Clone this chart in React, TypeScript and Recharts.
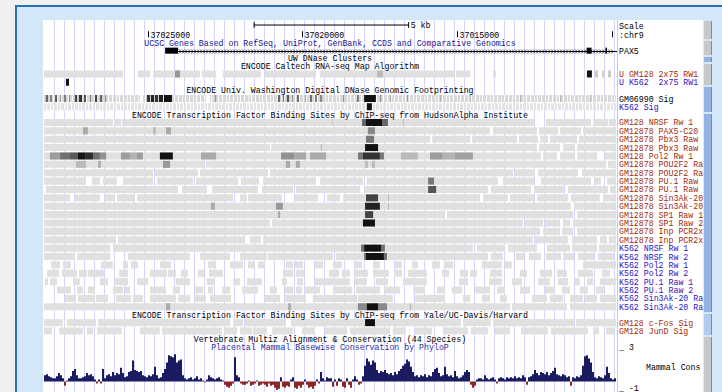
import React from 'react';
import {
  ComposedChart,
  BarChart,
  Bar,
  Cell,
  Scatter,
  XAxis,
  YAxis,
  CartesianGrid,
  ReferenceArea,
  ReferenceLine,
} from 'recharts';

// ---------------- genomic window (chr9, reverse-strand display) ----------------
// positions below are kb downstream (to the right) of the window's left edge, chr9:37,028,365
const WINDOW_LEFT_BP = 37028365;
const WINDOW_KB = 18.51;

const rulerTicksBp = [37025000, 37020000, 37015000, 37010000];
const rulerLabelShown = [true, true, true, false];
const scaleBarStartKb = 6.8;
const scaleBarKb = 5;

// PAX5 gene model (kb)
const paxExons: [number, number][] = [
  [3.92, 4.34],
  [17.56, 17.72],
  [18.17, 18.22],
];
const paxSpan: [number, number] = [4.34, 18.51];

// ---------------- track segments: [startKb, endKb, signal 0..1] ----------------
type Seg = [number, number, number];

const rnaGm12878: Seg[] = [
  [0, 2.56, 0], [3.04, 3.43, 0], [3.53, 5.05, 0], [5.11, 5.57, 0], [5.79, 7.02, 0], [7.15, 8.8, 0],
  [8.93, 13.3, 0], [13.33, 13.79, 0], [14.53, 14.63, 0],
  [4.24, 4.4, 0.32], [10.78, 10.97, 0.17], [17.57, 17.73, 0.92], [17.83, 17.93, 0.09], [18.06, 18.12, 0.09], [18.25, 18.35, 0.09],
];
const rnaK562: Seg[] = [[0.71, 0.81, 0.92]];

const dnaseGm06990: Seg[] = [
  [0, 3.11, 0], [3.2, 5.24, 0], [5.37, 18.51, 0],
  [0.06, 0.13, 0.54], [0.19, 0.26, 0.39], [0.36, 0.42, 0.62], [0.52, 0.55, 0.32], [0.65, 0.71, 0.47], [0.81, 0.84, 0.39],
  [1.0, 1.07, 0.7], [1.13, 1.23, 0.77], [1.29, 1.36, 0.62], [1.49, 1.52, 0.47], [1.65, 1.72, 0.7], [1.81, 1.88, 0.54], [1.97, 2.01, 0.32],
  [3.33, 3.43, 0.77], [3.46, 3.56, 0.85], [3.59, 3.69, 0.77], [3.72, 3.85, 0.85], [3.88, 4.14, 0.92], [5.53, 5.57, 0.32],
  [7.57, 7.64, 0.54], [7.73, 7.77, 0.47], [7.86, 7.93, 0.62], [8.03, 8.06, 0.39], [8.19, 8.25, 0.54], [8.45, 8.48, 0.32],
  [8.61, 8.67, 0.54], [8.77, 8.83, 0.47], [8.93, 9.0, 0.39], [9.68, 9.71, 0.39], [10.13, 10.19, 0.47], [10.36, 10.74, 0.92],
  [10.87, 10.91, 0.32], [11.2, 11.23, 0.24], [11.75, 11.78, 0.32], [12.81, 12.85, 0.2], [13.79, 13.82, 0.2], [15.4, 15.44, 0.2],
  [16.7, 16.73, 0.2], [17.67, 17.7, 0.2],
];
const dnaseK562: Seg[] = [[0, 18.51, 0], [10.45, 10.61, 0.92]];

// HudsonAlpha TFBS (GM12878)
const haGmNrsf1: Seg[] = [[0, 2.23, 0], [2.27, 2.49, 0], [2.52, 15.86, 0], [16.24, 17.7, 0], [17.77, 18.25, 0], [18.28, 18.51, 0], [10.29, 10.42, 0.54], [10.42, 10.94, 0.92], [10.94, 11.13, 0.54], [11.62, 11.65, 0.17], [9.32, 9.35, 0.1]];
const haGmPax5: Seg[] = [[0, 14.43, 0], [14.53, 15.95, 0], [16.02, 16.63, 0], [16.7, 17.38, 0], [17.44, 18.51, 0], [1.26, 1.42, 0.24], [3.53, 3.62, 0.17], [3.95, 4.11, 0.24], [10.48, 10.71, 0.39]];
const haGmPbx3a: Seg[] = [[0, 12.49, 0], [12.56, 13.79, 0], [13.85, 15.31, 0], [15.37, 15.99, 0], [16.05, 16.31, 0], [16.37, 17.25, 0], [17.31, 18.51, 0], [10.42, 10.68, 0.47]];
const haGmPbx3b: Seg[] = [[0, 7.31, 0], [7.35, 15.95, 0], [16.02, 16.7, 0], [16.8, 17.18, 0], [17.25, 18.51, 0], [10.39, 10.81, 0.92], [8.96, 9.0, 0.17]];
const haGmPol2: Seg[] = [
  [0, 16.08, 0], [16.15, 16.6, 0], [16.7, 17.18, 0], [17.25, 17.9, 0], [18.15, 18.51, 0],
  [0.19, 0.52, 0.3], [0.52, 0.84, 0.5], [0.84, 1.1, 0.6], [1.1, 1.33, 0.9], [1.33, 1.59, 0.8], [1.59, 1.81, 0.5], [1.81, 2.01, 0.35],
  [2.49, 2.78, 0.3], [2.78, 3.01, 0.2], [3.01, 3.2, 0.3], [3.75, 4.17, 0.92], [5.08, 5.57, 0.24], [7.67, 8.1, 0.35], [8.1, 8.48, 0.25],
  [8.61, 9.13, 0.24], [10.16, 10.32, 0.47], [10.32, 10.87, 0.77], [10.87, 11.0, 0.47], [11.55, 12.1, 0.17],
  [12.49, 12.9, 0.3], [12.9, 13.3, 0.2], [13.3, 13.88, 0.28],
];
const haGmPou2f2a: Seg[] = [[0, 5.18, 0], [5.24, 18.19, 0], [18.25, 18.51, 0], [1.04, 1.36, 0.17], [1.75, 1.84, 0.24], [3.85, 4.08, 0.32], [7.83, 7.96, 0.24], [8.15, 8.28, 0.24], [10.39, 10.48, 0.17], [10.61, 10.71, 0.17]];
const haGmPou2f2b: Seg[] = [[0, 3.53, 0], [3.59, 4.98, 0], [5.05, 7.25, 0], [7.31, 15.18, 0], [15.24, 15.89, 0], [15.99, 17.28, 0], [17.41, 18.51, 0]];
const haGmPu1a: Seg[] = [[0, 1.36, 0], [1.55, 1.81, 0], [1.91, 2.36, 0], [2.56, 3.53, 0], [3.66, 4.82, 0], [4.92, 6.28, 0], [6.37, 6.96, 0], [7.09, 8.8, 0], [8.93, 10.32, 0], [10.45, 14.69, 0], [14.85, 15.86, 0], [16.08, 17.7, 0], [17.8, 18.02, 0], [18.22, 18.51, 0], [12.43, 12.62, 0.47]];
const haGmPu1b: Seg[] = [[0.06, 4.34, 0], [4.47, 5.27, 0], [5.44, 6.93, 0], [7.05, 8.06, 0], [8.15, 10.23, 0], [10.36, 14.37, 0], [14.46, 15.76, 0], [15.86, 16.83, 0], [16.96, 18.25, 0], [18.32, 18.51, 0], [12.43, 12.69, 0.62]];
const haGmSin3a: Seg[] = [[0, 0.84, 0], [1.0, 1.81, 0], [1.97, 2.3, 0], [2.36, 2.94, 0], [3.01, 6.12, 0], [6.34, 6.57, 0], [6.6, 7.7, 0], [8.12, 8.87, 0], [9.16, 9.58, 0], [9.68, 14.11, 0], [14.21, 15.02, 0], [15.08, 15.86, 0], [15.95, 16.96, 0], [17.05, 17.99, 0], [18.09, 18.51, 0], [10.42, 10.81, 0.7], [11.13, 11.16, 0.17]];
const haGmSin3b: Seg[] = [[0, 17.05, 0], [17.15, 18.51, 0], [5.4, 5.53, 0.24], [7.51, 7.73, 0.32], [10.39, 10.87, 0.85], [11.13, 11.16, 0.17]];
const haGmSp1a: Seg[] = [[0, 12.98, 0], [13.04, 17.12, 0], [17.25, 18.51, 0], [7.57, 7.64, 0.24], [10.39, 10.65, 0.7]];
const haGmSp1b: Seg[] = [[0, 7.31, 0], [7.38, 15.5, 0], [15.56, 16.15, 0], [16.21, 16.7, 0], [16.8, 17.02, 0], [17.12, 18.51, 0], [10.32, 10.71, 0.92]];
const haGmInpA: Seg[] = [[0, 16.05, 0], [16.15, 16.7, 0], [16.76, 17.12, 0], [17.25, 18.51, 0]];
const haGmInpB: Seg[] = [[0, 2.33, 0], [2.39, 6.5, 0], [6.67, 7.02, 0], [7.09, 15.82, 0], [15.89, 16.96, 0], [17.09, 17.9, 0], [17.99, 18.22, 0], [18.28, 18.51, 0]];

// HudsonAlpha TFBS (K562)
const haK562Nrsf1: Seg[] = [[0, 2.14, 0], [2.23, 13.88, 0], [14.01, 14.92, 0], [15.02, 15.95, 0], [16.28, 17.02, 0], [17.09, 17.9, 0], [17.96, 18.51, 0], [10.26, 10.36, 0.5], [10.36, 10.91, 0.92], [10.91, 11.03, 0.5]];
const haK562Nrsf2: Seg[] = [[0, 1.0, 0], [1.07, 2.14, 0], [2.72, 4.72, 0], [5.05, 6.02, 0], [6.34, 7.22, 0], [7.25, 9.35, 0], [9.45, 14.37, 0], [14.46, 14.85, 0], [15.27, 15.53, 0], [15.69, 16.08, 0], [16.24, 16.73, 0], [16.8, 17.15, 0], [17.28, 17.8, 0], [17.93, 18.45, 0], [10.36, 10.42, 0.5], [10.42, 11.0, 0.92], [11.0, 11.1, 0.5]];
const haK562Pol2a: Seg[] = [[0.23, 0.52, 0], [0.61, 0.87, 0], [1.84, 2.23, 0], [2.56, 2.72, 0], [2.82, 3.04, 0], [3.75, 4.11, 0], [5.31, 5.57, 0], [6.02, 6.44, 0], [6.6, 6.83, 0], [6.93, 7.15, 0], [7.83, 8.06, 0], [8.12, 8.38, 0], [8.77, 9.03, 0], [9.35, 9.64, 0], [10.06, 10.29, 0], [10.65, 10.87, 0], [11.36, 11.58, 0], [11.91, 12.1, 0], [12.56, 12.81, 0], [12.94, 13.24, 0], [14.17, 14.82, 0], [14.92, 15.14, 0], [17.44, 18.51, 0]];
const haK562Pol2b: Seg[] = [[0.1, 0.49, 0], [0.58, 1.07, 0], [1.13, 1.39, 0], [1.42, 1.94, 0], [2.43, 2.72, 0], [3.43, 3.98, 0], [4.01, 4.27, 0], [4.43, 4.66, 0], [4.98, 5.18, 0], [5.34, 5.79, 0], [7.73, 8.06, 0], [8.15, 8.41, 0], [9.22, 9.55, 0], [9.64, 9.9, 0], [10.06, 10.48, 0], [10.65, 11.16, 0], [11.33, 11.58, 0], [11.78, 12.39, 0], [12.88, 13.11, 0], [13.46, 13.72, 0], [13.79, 14.01, 0], [14.43, 14.82, 0], [15.4, 15.63, 0], [16.05, 16.44, 0], [16.6, 16.92, 0], [17.28, 17.77, 0], [18.06, 18.32, 0]];
const haK562Pu1a: Seg[] = [[0.03, 0.13, 0], [0.19, 0.42, 0], [0.94, 1.16, 0], [1.81, 2.07, 0], [2.3, 2.72, 0], [3.01, 3.37, 0], [4.27, 4.72, 0], [5.27, 5.53, 0], [6.12, 6.34, 0], [6.57, 7.05, 0], [7.7, 7.86, 0], [8.19, 8.38, 0], [8.77, 9.9, 0], [10.06, 10.45, 0], [10.74, 11.13, 0], [11.62, 12.39, 0], [13.43, 13.72, 0], [14.4, 14.82, 0], [15.14, 15.47, 0], [15.99, 16.37, 0], [16.63, 16.96, 0], [17.18, 17.34, 0], [17.57, 17.77, 0], [17.99, 18.51, 0]];
const haK562Pu1b: Seg[] = [[0.42, 0.87, 0], [1.07, 1.26, 0], [1.42, 1.65, 0], [2.23, 2.56, 0], [2.62, 2.78, 0], [3.43, 3.95, 0], [4.17, 4.4, 0], [4.89, 5.15, 0], [5.31, 5.47, 0], [5.76, 6.02, 0], [6.41, 6.93, 0], [7.31, 7.54, 0], [7.8, 8.06, 0], [8.15, 8.35, 0], [8.45, 8.93, 0], [9.35, 9.97, 0], [10.1, 10.87, 0], [11.0, 11.52, 0], [11.94, 12.33, 0], [12.72, 12.98, 0], [13.2, 13.53, 0], [13.95, 14.43, 0], [14.66, 14.92, 0], [15.4, 15.73, 0], [16.21, 16.54, 0], [16.76, 17.02, 0], [17.34, 17.6, 0], [17.86, 18.12, 0]];
const haK562Sin3a: Seg[] = [[0.68, 1.04, 0], [1.1, 1.65, 0], [1.68, 2.07, 0], [2.33, 2.82, 0], [2.88, 3.2, 0], [3.43, 4.27, 0], [4.34, 4.72, 0], [4.89, 5.24, 0], [5.37, 6.05, 0], [7.15, 7.64, 0], [7.8, 8.48, 0], [8.7, 10.13, 0], [10.16, 11.29, 0], [12.01, 12.98, 0], [13.56, 13.79, 0], [14.17, 14.43, 0], [14.76, 14.98, 0], [15.79, 16.28, 0], [16.37, 16.8, 0], [17.02, 17.44, 0], [17.51, 17.9, 0], [17.99, 18.51, 0]];
const haK562Sin3b: Seg[] = [[0, 15.08, 0], [15.14, 16.92, 0], [17.02, 18.51, 0], [3.95, 4.08, 0.24], [7.9, 7.99, 0.24], [10.16, 10.45, 0.39], [10.45, 10.81, 0.92], [10.81, 11.1, 0.39], [11.84, 11.88, 0.17]];

// Yale/UC-Davis/Harvard TFBS
const yaleGmCfos: Seg[] = [[0, 0.61, 0], [0.74, 1.68, 0], [1.75, 6.02, 0], [6.12, 6.44, 0], [6.5, 7.83, 0], [7.99, 13.49, 0], [13.56, 14.46, 0], [14.53, 17.15, 0], [17.22, 18.51, 0], [10.39, 10.71, 0.92]];
const yaleGmJund: Seg[] = [[0, 0.26, 0], [0.49, 1.26, 0], [1.39, 1.59, 0], [1.72, 2.52, 0], [3.11, 3.75, 0], [3.82, 5.76, 0], [5.82, 6.25, 0], [6.34, 6.73, 0], [6.76, 7.22, 0], [7.38, 8.06, 0], [8.35, 8.77, 0], [9.09, 9.81, 0], [9.9, 11.2, 0], [11.29, 11.71, 0], [12.01, 12.56, 0], [12.91, 13.72, 0], [13.82, 14.37, 0], [14.59, 15.08, 0], [15.44, 16.31, 0], [16.41, 17.6, 0], [17.77, 17.96, 0], [18.19, 18.45, 0]];

// Placental mammal phyloP, one value per 0.0647 kb bin
const phyloPScores: number[] = [
  0.6, 0.7, 0.5, 0.4, 0.3, 0.3, 0.5, 0.8, 0.6, 0.3,
  -0.4, 0.1, 0.3, 0.5, 1.0, 1.2, 0.6, 0.3, 0.3, 0.4,
  0.5, 0.8, 0.6, 0.7, 0.5, 0.2, -0.2, 0.2, -0.2, 1.2,
  0.3, 0.6, 0.7, 0.5, 0.9, 0.6, 0.8, 0.7, 1.3, 0.8,
  0.4, 0.5, 0.9, 1.0, 2.0, 1.1, 1.0, 0.9, 1.0, 0.6,
  0.5, 0.4, 0.6, 0.5, 0.7, 1.4, 0.6, 0.3, 0.4, 0.8,
  1.2, 1.8, 2.5, 2.4, 2.3, 2.6, 1.8, 2.0, 2.1, 0.6,
  0.3, 0.2, 0.3, 0.4, 0.2, 0.3, 0.5, 0.2, 0.3, 0.1,
  -0.1, 0.2, 0.6, 0.4, 0.3, 0.2, 0.3, 0.4, 0.2, 0.1,
  -0.3, -0.5, -0.6, -0.4, -0.2, 2.3, 0.6, 0.4, -0.2, -0.3,
  -0.3, -0.2, 0.1, -0.4, -0.3, -0.2, 0.1, -0.4, -0.3, -0.2,
  -0.3, -0.5, -0.2, -0.4, -0.3, -0.6, -0.8, -0.7, 0.4, -0.5,
  -0.6, -0.4, -0.5, 0.2, 0.4, -0.6, -0.7, -0.4, -0.6, -0.3,
  0.2, -0.3, -0.6, -0.5, -0.7, -0.4, 0.2, -0.2, 0.9, 0.3, 0.1, 0.4, 0.3,
  0.3, -0.5, 0.2, -0.4, 0.3, 0.2, -0.5, -0.6, 0.3, -0.3,
  -0.6, 0.2, 0.5, 0.2, -0.3, -0.2, 0.5, 1.5, 2.2, 1.9,
  1.6, 2.0, 1.8, 1.1, 0.8, 1.0, 0.9, 1.1, 0.8, 0.7,
  0.8, 0.6, 0.9, 0.7, 1.0, 1.2, 1.5, 1.7, 2.1, 1.9,
  1.4, 0.9, 0.5, 0.6, 0.4, 0.6, 0.5, 0.7, 0.4, 0.6,
  0.5, 0.9, 1.2, 1.3, 0.8, 0.5, 0.6, 1.4, 0.7, 0.5,
  0.6, 0.4, 1.0, 0.5, 0.3, 0.4, 0.6, 0.9, 1.1, 0.9,
  -0.3, -0.6, -0.4, 0.2, 0.3, 0.3, 0.2, 0.6, 0.3, 0.2,
  0.3, 0.4, 0.2, -0.2, 0.3, 0.4, 0.3, 0.2, 0.4, 0.3,
  0.4, 0.3, 0.5, 0.3, 0.4, 0.3, 0.6, 0.4, -0.3, 0.4,
  0.5, 0.7, 1.1, 0.8, 0.6, 0.9, 0.8, 0.7, 0.9, 0.6,
  0.8, 1.0, 1.3, 0.7, 0.6, 0.5, 0.7, 0.6, 0.4, 0.5,
  -0.4, 0.4, 0.3, 0.5, 0.4, 0.6, 1.5, 2.4, 2.5, 2.2,
  1.8, 0.9, 0.4, 0.3, 0.5, 0.4, 0.3, 0.6, 1.4, 0.8, 0.3, 0.2, 0.3,
];

// ---------------- labels (as visible in the track label column) ----------------
const haGmLabels = [
  'GM128 NRSF Rw 1', 'GM12878 PAX5-C20', 'GM12878 Pbx3 Raw', 'GM12878 Pbx3 Raw', 'GM128 Pol2 Rw 1',
  'GM12878 POU2F2 Ra', 'GM12878 POU2F2 Ra', 'GM12878 PU.1 Raw', 'GM12878 PU.1 Raw',
  'GM12878 Sin3Ak-20', 'GM12878 Sin3Ak-20', 'GM12878 SP1 Raw 1', 'GM12878 SP1 Raw 2',
  'GM12878 Inp PCR2x', 'GM12878 Inp PCR2x',
];
const haK562Labels = [
  'K562 NRSF Rw 1', 'K562 NRSF Rw 2', 'K562 Pol2 Rw 1', 'K562 Pol2 Rw 2',
  'K562 PU.1 Raw 1', 'K562 PU.1 Raw 2', 'K562 Sin3Ak-20 Ra', 'K562 Sin3Ak-20 Ra',
];
const trackTitles = [
  'UCSC Genes Based on RefSeq, UniProt, GenBank, CCDS and Comparative Genomics',
  'UW DNase Clusters',
  'ENCODE Caltech RNA-seq Map Algorithm',
  'ENCODE Univ. Washington Digital DNase Genomic Footprinting',
  'ENCODE Transcription Factor Binding Sites by ChIP-seq from HudsonAlpha Institute',
  'ENCODE Transcription Factor Binding Sites by ChIP-seq from Yale/UC-Davis/Harvard',
  'Vertebrate Multiz Alignment & Conservation (44 Species)',
  'Placental Mammal Basewise Conservation by PhyloP',
];

// ---------------- styling / layout ----------------
const GM_COLOR = '#a12c08';
const K562_COLOR = '#3412c0';
const GENE_BLUE = '#16168e';
const PHYLO_BLUE = '#2e2e9c';
const POS_COLOR = '#1b1b62';
const NEG_COLOR = '#8b2626';
const FONT = '"Liberation Mono", "DejaVu Sans Mono", monospace';
const FS = 8.25;

const W = 722;
const H = 392;
const PLOT_LEFT = 44;
const PLOT_RIGHT = 616;
const PLOT_TOP = 20;
const ROW_PX = 8.378;
const Y_UNITS = (H - PLOT_TOP) / ROW_PX;
const BAR_HALF = 0.42;
const RULER_SLOT = 1.76;
const GENE_SLOT = 3.66;

const toKb = (bp: number) => (WINDOW_LEFT_BP - bp) / 1000;
const shadeOf = (s: number) => {
  const g = Math.round(224 * (1 - s));
  return `rgb(${g},${g},${g})`;
};
const slotY = (slot: number) => PLOT_TOP + slot * ROW_PX;

// base-position guide lines (every ~324 bp)
const guideTicks: number[] = [];
for (let k = 1; k * 0.3236 < WINDOW_KB; k++) guideTicks.push(+(k * 0.3236).toFixed(4));

const guideGenerator = (p: any) => {
  const sc = p && p.xAxis && p.xAxis.scale;
  const off = p && p.offset;
  return guideTicks.map((t) => {
    const v = typeof sc === 'function' ? sc(t) : off.left + (t / WINDOW_KB) * off.width;
    return Math.round(v) + 0.5;
  });
};

type Track = { segs: Seg[]; slot: number; label: string; color: string; texture?: string };

const haGmSegs = [haGmNrsf1, haGmPax5, haGmPbx3a, haGmPbx3b, haGmPol2, haGmPou2f2a, haGmPou2f2b, haGmPu1a, haGmPu1b, haGmSin3a, haGmSin3b, haGmSp1a, haGmSp1b, haGmInpA, haGmInpB];
const haK562Segs = [haK562Nrsf1, haK562Nrsf2, haK562Pol2a, haK562Pol2b, haK562Pu1a, haK562Pu1b, haK562Sin3a, haK562Sin3b];

const tracks: Track[] = [
  { segs: rnaGm12878, slot: 6.44, label: 'U GM128 2x75 RW1', color: GM_COLOR },
  { segs: rnaK562, slot: 7.43, label: 'U K562  2x75 RW1', color: K562_COLOR },
  { segs: dnaseGm06990, slot: 9.37, label: 'GM06990 Sig', color: '#000', texture: 'fpStripes' },
  { segs: dnaseK562, slot: 10.35, label: 'K562 Sig', color: K562_COLOR, texture: 'fpStripesLight' },
  ...haGmSegs.map((segs, i) => ({ segs, slot: 12.23 + i, label: haGmLabels[i], color: GM_COLOR })),
  ...haK562Segs.map((segs, i) => ({ segs, slot: 12.23 + 15 + i, label: haK562Labels[i], color: K562_COLOR })),
  { segs: yaleGmCfos, slot: 36.12, label: 'GM128 c-Fos Sig', color: GM_COLOR },
  { segs: yaleGmJund, slot: 37.11, label: 'GM128 JunD Sig', color: GM_COLOR },
];

const titleSlots = [2.74, 4.53, 5.49, 8.35, 11.28, 35.2, 38.1, 39.06];
const titleColors = [GENE_BLUE, '#000', '#000', '#000', '#000', '#000', '#000', PHYLO_BLUE];

const rulerPoints = rulerTicksBp.map((bp, i) => ({
  x: toKb(bp),
  y: RULER_SLOT,
  text: rulerLabelShown[i] ? String(bp) : '',
}));

const RulerTick = (props: any) => {
  const { cx, cy, payload } = props;
  if (cx == null || cy == null) return <g />;
  const px = Math.round(cx) + 0.5;
  return (
    <g>
      <line x1={px} x2={px} y1={cy - 3.5} y2={cy + 2.5} stroke="#000" strokeWidth={1} />
      <text x={px + 2} y={cy + 3} fontFamily={FONT} fontSize={FS} fill="#000">
        {payload.text}
      </text>
    </g>
  );
};

const IntronShape = (props: any) => {
  const { x, y, width, height } = props;
  if (width == null) return <g />;
  const cy = Math.round(y + height / 2) + 0.5;
  const chev: React.ReactNode[] = [];
  for (let cx = x + 2; cx < x + width - 1; cx += 3) {
    chev.push(
      <path key={cx} d={`M${cx - 1},${cy - 2}L${cx + 1},${cy}L${cx - 1},${cy + 2}`} stroke="#000" strokeWidth={0.8} fill="none" />
    );
  }
  return (
    <g>
      <line x1={x} x2={x + width} y1={cy} y2={cy} stroke="#000" strokeWidth={1} />
      {chev}
    </g>
  );
};

const labelStyle = { fontFamily: FONT, fontSize: FS, fill: '#000' };

function MainChart() {
  const areas: React.ReactNode[] = [];
  tracks.forEach((t, ti) => {
    [...t.segs]
      .sort((a, b) => a[2] - b[2])
      .forEach((seg, si) => {
        areas.push(
          <ReferenceArea
            key={`t${ti}-${si}`}
            x1={seg[0]}
            x2={seg[1]}
            y1={t.slot - BAR_HALF}
            y2={t.slot + BAR_HALF}
            fill={seg[2] === 0 && t.texture ? `url(#${t.texture})` : shadeOf(seg[2])}
            fillOpacity={1}
            stroke="none"
            ifOverflow="hidden"
          />
        );
      });
  });

  return (
    <ComposedChart
      width={W}
      height={H}
      data={rulerPoints}
      margin={{ top: PLOT_TOP, right: W - PLOT_RIGHT, bottom: 0, left: PLOT_LEFT }}
    >
      <XAxis type="number" dataKey="x" domain={[0, WINDOW_KB]} allowDataOverflow hide />
      <YAxis type="number" dataKey="y" domain={[0, Y_UNITS]} reversed allowDataOverflow hide />
      <CartesianGrid
        horizontal={false}
        vertical
        stroke="#d4d4ff"
        strokeWidth={1}
        verticalCoordinatesGenerator={guideGenerator}
      />

      {/* scale bar */}
      <ReferenceLine
        segment={[{ x: scaleBarStartKb, y: 0.6 }, { x: scaleBarStartKb + scaleBarKb, y: 0.6 }]}
        stroke="#000"
        ifOverflow="visible"
      />
      <ReferenceLine
        segment={[{ x: scaleBarStartKb, y: 0.25 }, { x: scaleBarStartKb, y: 0.95 }]}
        stroke="#000"
        ifOverflow="visible"
      />
      <ReferenceLine
        segment={[{ x: scaleBarStartKb + scaleBarKb, y: 0.25 }, { x: scaleBarStartKb + scaleBarKb, y: 0.95 }]}
        stroke="#000"
        ifOverflow="visible"
        label={{ value: `${scaleBarKb} kb`, position: 'right', offset: 2, ...labelStyle }}
      />

      {/* PAX5 gene */}
      <ReferenceArea
        x1={paxSpan[0]}
        x2={paxSpan[1]}
        y1={GENE_SLOT - 0.3}
        y2={GENE_SLOT + 0.3}
        shape={IntronShape}
        ifOverflow="hidden"
      />
      {paxExons.map((e, i) => (
        <ReferenceArea
          key={`ex${i}`}
          x1={e[0]}
          x2={e[1]}
          y1={GENE_SLOT - 0.36}
          y2={GENE_SLOT + 0.36}
          fill="#000"
          fillOpacity={1}
          stroke="none"
          ifOverflow="hidden"
        />
      ))}

      {areas}

      {/* base position ruler */}
      <Scatter data={rulerPoints} shape={RulerTick} isAnimationActive={false} />
    </ComposedChart>
  );
}

function ConservationChart() {
  const data = phyloPScores.map((v, i) => ({ bin: i, v }));
  return (
    <BarChart
      width={PLOT_RIGHT - PLOT_LEFT}
      height={42}
      data={data}
      margin={{ top: 0, right: 0, bottom: 0, left: 0 }}
      barCategoryGap={0}
      barGap={0}
    >
      <XAxis dataKey="bin" type="category" hide />
      <YAxis type="number" domain={[-1, 3]} allowDataOverflow hide />
      <Bar dataKey="v" isAnimationActive={false}>
        {data.map((d) => (
          <Cell key={d.bin} fill={d.v >= 0 ? POS_COLOR : NEG_COLOR} />
        ))}
      </Bar>
    </BarChart>
  );
}

const sideButtons: { y0: number; y1: number; c: string }[] = [
  { y0: 21, y1: 39, c: '#c8c8c8' },
  { y0: 41, y1: 55, c: '#c8c8c8' },
  { y0: 57, y1: 62, c: '#93b2e2' },
  { y0: 64, y1: 85, c: '#c8c8c8' },
  { y0: 87, y1: 112, c: '#93b2e2' },
  { y0: 114, y1: 312, c: '#93b2e2' },
  { y0: 314, y1: 335, c: '#b3cbef' },
  { y0: 337, y1: 392, c: '#c8c8c8' },
];

const LABEL_X = 619;

export default function App() {
  const textProps = { fontFamily: FONT, fontSize: FS, style: { whiteSpace: 'pre' as const } };
  return (
    <div style={{ position: 'absolute', left: 0, top: 0, width: W, height: H, overflow: 'hidden', background: '#f0f0f0' }}>
      <style>{`.mainc rect{shape-rendering:crispEdges}.consc rect{shape-rendering:crispEdges}`}</style>
      <svg width={0} height={0} style={{ position: 'absolute' }}>
        <defs>
          <pattern id="fpStripes" patternUnits="userSpaceOnUse" width={11} height={8}>
            <rect x={0} y={0} width={11} height={8} fill="#d9d9d9" />
            <rect x={2} y={0} width={1} height={8} fill="#ffffff" />
            <rect x={6} y={0} width={1} height={8} fill="#f4f4f4" />
            <rect x={9} y={0} width={1} height={8} fill="#ffffff" />
          </pattern>
          <pattern id="fpStripesLight" patternUnits="userSpaceOnUse" width={7} height={8}>
            <rect x={0} y={0} width={7} height={8} fill="#e3e3e3" />
            <rect x={1} y={0} width={1} height={8} fill="#ffffff" />
            <rect x={4} y={0} width={1} height={8} fill="#ffffff" />
          </pattern>
        </defs>
      </svg>
      {/* frame */}
      <div style={{ position: 'absolute', left: 15, top: 5, width: W - 15, height: H - 5, boxSizing: 'border-box', background: '#d3e7f8', borderLeft: '2px solid #2a70b6', borderTop: '2px solid #2a70b6' }} />
      <div style={{ position: 'absolute', left: 43, top: PLOT_TOP, width: 703 - 43, height: H - PLOT_TOP, background: '#ffffff' }} />
      <div className="mainc" style={{ position: 'absolute', left: 0, top: 0 }}>
        <MainChart />
      </div>
      <div className="consc" style={{ position: 'absolute', left: PLOT_LEFT, top: 350 }}>
        <ConservationChart />
      </div>
      <div style={{ position: 'absolute', left: 617, top: PLOT_TOP, width: 1, height: H - PLOT_TOP, background: '#f6bcbc' }} />
      {sideButtons.map((b, i) => (
        <div key={i} style={{ position: 'absolute', left: 703, top: b.y0, width: 9, height: b.y1 - b.y0, background: b.c, boxSizing: 'border-box', borderLeft: '1px solid #e8e8e8', borderRight: '1px solid #8a8a8a' }} />
      ))}
      <svg width={W} height={H} style={{ position: 'absolute', left: 0, top: 0, pointerEvents: 'none' }}>
        {trackTitles.map((t, i) => (
          <text key={t} x={(PLOT_LEFT + PLOT_RIGHT) / 2} y={slotY(titleSlots[i]) + 3} textAnchor="middle" fill={titleColors[i]} {...textProps}>
            {t}
          </text>
        ))}
        <line x1={612} x2={617} y1={Math.round(slotY(GENE_SLOT)) + 0.5} y2={Math.round(slotY(GENE_SLOT)) + 0.5} stroke="#000" />
        <text x={LABEL_X} y={25.7 + 3} fill="#000" {...textProps}>Scale</text>
        <text x={LABEL_X} y={34.7 + 3} fill="#000" {...textProps}>:chr9</text>
        <text x={LABEL_X} y={slotY(GENE_SLOT) + 3} fill="#000" {...textProps}>PAX5</text>
        {tracks.map((t, i) => (
          <text key={`lab${i}`} x={LABEL_X} y={slotY(t.slot) + 3} fill={t.color} {...textProps}>
            {t.label}
          </text>
        ))}
        <text x={LABEL_X} y={347 + 3} fill="#000" {...textProps}>_ 3</text>
        <text x={646} y={367 + 3} fill="#000" {...textProps}>Mammal Cons</text>
        <text x={LABEL_X} y={388 + 3} fill="#000" {...textProps}>_ -1</text>
      </svg>
    </div>
  );
}
